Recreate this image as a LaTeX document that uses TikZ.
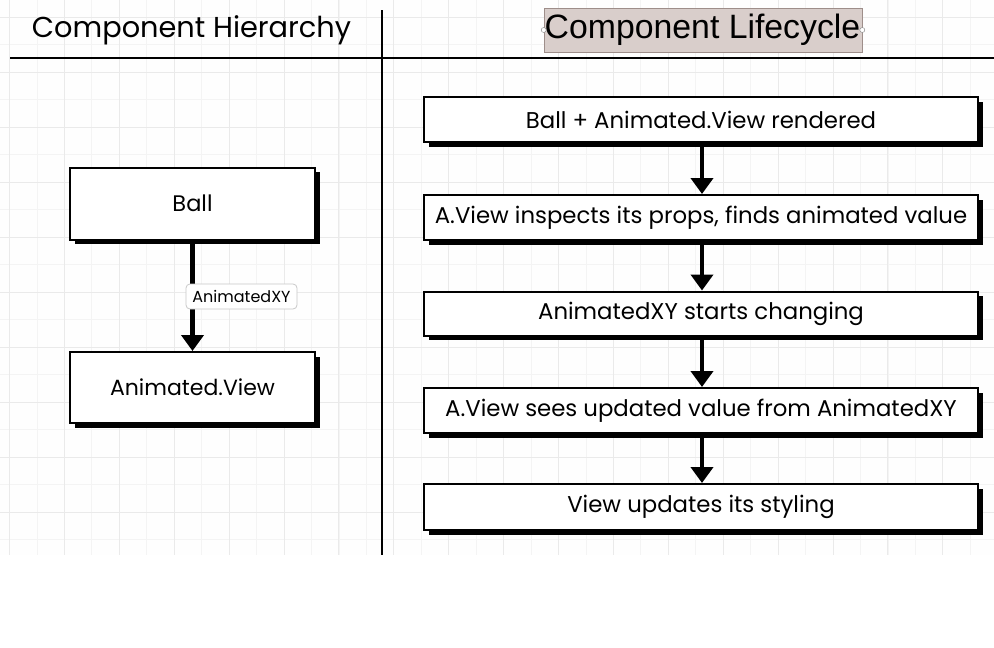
\documentclass[tikz,border=0pt]{standalone}
\usepackage{fontspec}
\setmainfont{Poppins}
\newfontfamily\arialfont{Liberation Sans}
\usetikzlibrary{shadows,arrows.meta}
\definecolor{gridmajor}{HTML}{EAEAEA}
\definecolor{gridminor}{HTML}{F4F4F4}
\definecolor{selfill}{HTML}{D9CECB}
\definecolor{selborder}{HTML}{9E8E8A}
\definecolor{lblborder}{HTML}{C8C8C8}
\tikzset{
  sketchbox/.style={draw=black, line width=2pt, fill=white, inner sep=0pt,
    drop shadow={shadow xshift=4.5pt, shadow yshift=-4.5pt, fill=black, opacity=1}},
  lefttext/.style={font=\fontsize{22.5}{26}\selectfont},
  righttext/.style={font=\fontsize{22.8}{25}\selectfont},
  flowarrow/.style={line width=4.5pt, -{Triangle[length=16pt,width=22pt]}},
  edgelabel/.style={draw=lblborder, fill=white, rounded corners=4pt, line width=0.8pt,
    font=\fontsize{16}{18}\selectfont, minimum width=111pt, minimum height=25pt, inner sep=1pt},
}
\begin{document}
\begin{tikzpicture}[x=1pt,y=-1pt]
\useasboundingbox (0,0) rectangle (994,648);
% grid
\fill[white] (0,0) rectangle (994,648);
\fill[white!99!gray] (0,0) rectangle (994,555);
\foreach \i in {0,...,36} {
  \draw[gridminor, line width=0.8pt] ({9.5+27.45*\i},0) -- ({9.5+27.45*\i},555);
}
\foreach \j in {0,...,19} {
  \draw[gridminor, line width=0.8pt] (0,{17+27.5*\j}) -- (994,{17+27.5*\j});
}
\foreach \i in {0,...,18} {
  \draw[gridmajor, line width=1pt] ({9.5+54.9*\i},0) -- ({9.5+54.9*\i},555);
}
\foreach \j in {0,...,9} {
  \draw[gridmajor, line width=1pt] (0,{17+55*\j}) -- (994,{17+55*\j});
}
% dividers
\coordinate (hl) at (10,58);
\coordinate (hr) at (994,58);
\coordinate (vt) at (382,10);
\coordinate (vb) at (382,555);
\draw[line width=2.3pt] (hl) -- (hr);
\draw[line width=2.3pt] (vt) -- (vb);
% titles
\node[font=\fontsize{28.8}{32}\selectfont, anchor=center] (t1) at (191.5,30) {Component Hierarchy};
\node[draw=selborder, fill=selfill, line width=0.6pt, minimum width=318pt, minimum height=44pt, inner sep=0pt] (selbox) at (703,30) {};
\node[font=\arialfont\fontsize{33.8}{36}\selectfont] (t2) at (702.5,30) {Component Lifecycle};
\node[circle, draw=gray, fill=white, inner sep=0pt, minimum size=5pt, line width=0.4pt] (h1) at (selbox.west) {};
\node[circle, draw=gray, fill=white, inner sep=0pt, minimum size=5pt, line width=0.4pt] (h2) at (selbox.east) {};
% left hierarchy
\node[sketchbox, lefttext, minimum width=245pt, minimum height=72pt] (ball) at (192.5,203.5) {Ball};
\node[sketchbox, lefttext, minimum width=245pt, minimum height=71pt] (av) at (192.5,387.5) {\fontsize{22}{26}\selectfont Animated.View};
\draw[flowarrow] (ball.south) -- (av.north);
\node[edgelabel] (lbl) at (241.5,296.5) {AnimatedXY};
% right lifecycle
\node[sketchbox, righttext, minimum width=554pt, minimum height=45pt] (s1) at (701,119.5) {Ball + Animated.View rendered};
\node[sketchbox, righttext, minimum width=554pt, minimum height=45pt] (s2) at (701,217.5) {A.View inspects its props, finds animated value};
\node[sketchbox, righttext, minimum width=554pt, minimum height=44pt] (s3) at (701,313.5) {AnimatedXY starts changing};
\node[sketchbox, righttext, minimum width=554pt, minimum height=45pt] (s4) at (701,410.5) {A.View sees updated value from AnimatedXY};
\node[sketchbox, righttext, minimum width=554pt, minimum height=46pt] (s5) at (701,507) {View updates its styling};
\draw[flowarrow] (s1.south -| 702,0) -- (s2.north -| 702,0);
\draw[flowarrow] (s2.south -| 702,0) -- (s3.north -| 702,0);
\draw[flowarrow] (s3.south -| 702,0) -- (s4.north -| 702,0);
\draw[flowarrow] (s4.south -| 702,0) -- (s5.north -| 702,0);
\end{tikzpicture}
\end{document}
